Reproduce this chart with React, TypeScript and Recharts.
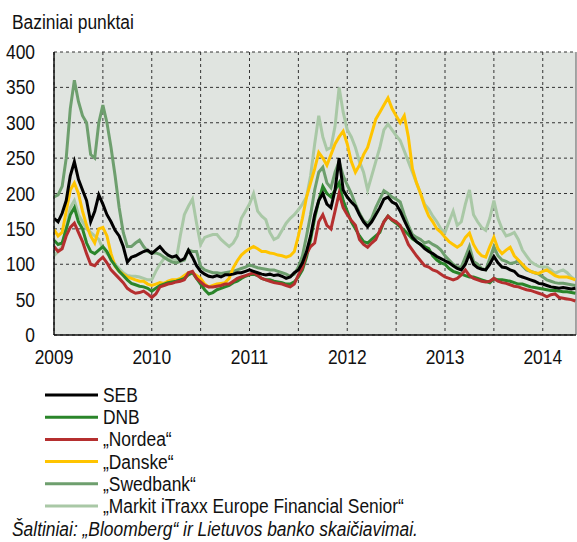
import { LineChart, Line, XAxis, YAxis, CartesianGrid, ReferenceLine } from 'recharts'

// semi-monthly observations, first point = start of 2009
const START_YEAR = 2009
const STEP = 1 / 24

const seb = [
  165, 160, 172, 190, 225, 245, 220, 205, 190, 160, 175, 198, 185, 170, 160, 148, 140, 125, 103, 110,
  112, 115, 118, 120, 115, 120, 125, 118, 113, 110, 112, 105, 108, 120, 110, 98, 90, 86, 83, 82,
  84, 82, 85, 85, 86, 88, 88, 90, 92, 90, 88, 86, 85, 86, 84, 85, 83, 80, 82, 88,
  92, 102, 118, 140, 170, 190, 200, 185, 180, 205, 250, 205, 195, 188, 182, 170, 160, 153, 160, 170,
  180, 192, 195, 188, 185, 175, 162, 150, 138, 132, 128, 122, 118, 115, 111, 108, 105, 102, 98, 94,
  92, 100, 115, 100, 95, 93, 92, 100, 111, 102, 96, 95, 92, 90, 84, 82, 80, 78, 76, 73,
  72, 70, 68, 67, 66, 67, 66, 65, 66,
]

const dnb = [
  134, 128, 130, 150, 170, 180, 160, 150, 130, 118, 115, 120, 125, 118, 106, 98, 90, 84, 78, 73,
  71, 69, 68, 66, 62, 66, 70, 72, 74, 75, 76, 78, 80, 85, 88, 80, 72, 64, 58, 60,
  64, 66, 68, 70, 74, 76, 80, 83, 85, 86, 84, 80, 78, 78, 76, 75, 74, 72, 72, 75,
  82, 92, 110, 135, 165, 190, 210, 200, 195, 205, 215, 190, 175, 160, 150, 140, 132, 130, 135, 140,
  145, 160, 168, 162, 158, 153, 148, 142, 136, 132, 128, 125, 122, 112, 106, 102, 100, 94, 90, 88,
  86, 84, 82, 82, 80, 78, 76, 74, 80, 78, 78, 77, 76, 74, 72, 72, 70, 68, 67, 66,
  65, 64, 63, 63, 62, 61, 61, 60, 59,
]

const nordea = [
  125, 118, 122, 140, 152, 158, 145, 132, 115, 100, 98, 105, 110, 102, 92, 86, 80, 74, 66, 62,
  59, 60, 62, 58, 53, 58, 68, 70, 72, 73, 75, 76, 78, 88, 90, 80, 75, 70, 68, 68,
  69, 70, 72, 72, 76, 80, 82, 84, 86, 88, 84, 80, 78, 76, 74, 73, 72, 70, 68, 72,
  85, 95, 115, 125, 130, 160, 170, 155, 150, 175, 200, 180, 170, 162, 155, 135, 128, 124, 130, 135,
  148, 160, 168, 163, 160, 155, 142, 128, 120, 112, 105, 98, 96, 92, 90, 86, 82, 80, 78, 80,
  85, 92, 84, 80, 78, 76, 75, 76, 80, 76, 74, 73, 71, 69, 68, 66, 64, 63, 61, 59,
  57, 54, 57, 58, 53, 52, 51, 50, 48,
]

const danske = [
  149, 140, 145, 175, 205, 215, 200, 175, 155, 140, 130, 150, 152, 140, 115, 97, 90, 86, 82, 80,
  78, 76, 76, 72, 70, 72, 74, 73, 76, 78, 78, 80, 84, 88, 88, 84, 80, 72, 68, 70,
  72, 73, 74, 80, 95, 105, 113, 118, 122, 125, 122, 118, 118, 116, 115, 113, 112, 110, 112, 118,
  140, 165, 195, 215, 235, 258, 250, 240, 255, 270, 280, 288, 270, 245, 230, 240, 255, 265, 285, 305,
  315, 325, 335, 320, 310, 300, 310, 280, 235, 215, 200, 182, 168, 160, 150, 145, 138, 132, 128, 124,
  128, 138, 144, 128, 118, 112, 110, 125, 138, 122, 115, 120, 124, 112, 106, 100, 94, 90, 88, 87,
  90, 92, 88, 84, 82, 82, 82, 80, 78,
]

const swedbank = [
  195, 198, 210, 250, 320, 360, 330, 310, 300, 255, 250, 300, 325, 300, 265, 225, 180, 145, 125, 125,
  130, 134, 125, 118, 116, 116, 114, 110, 106, 103, 102, 104, 106, 120, 118, 118, 97, 92, 90, 88,
  88, 87, 88, 89, 90, 92, 94, 96, 99, 97, 95, 94, 93, 92, 92, 90, 88, 86, 83, 86,
  96, 112, 140, 170, 205, 230, 237, 215, 208, 230, 245, 225, 212, 200, 185, 172, 162, 157, 165, 180,
  192, 204, 200, 195, 192, 188, 170, 155, 142, 138, 135, 130, 132, 128, 125, 120, 112, 106, 100, 96,
  96, 110, 125, 104, 100, 94, 92, 108, 125, 112, 106, 104, 101, 102, 105, 98, 92, 90, 88, 86,
  82, 78, 76, 74, 73, 73, 72, 71, 70,
]

const markit = [
  112, 118, 125, 150, 180, 190, 170, 160, 150, 145, 140, 135, 122, 115, 110, 100, 94, 88, 84, 83,
  83, 82, 80, 78, 78, 90, 100, 108, 110, 106, 106, 140, 170, 182, 192, 158, 128, 138, 140, 142,
  142, 135, 130, 125, 130, 140, 165, 175, 185, 200, 175, 168, 163, 145, 135, 138, 148, 158, 165, 170,
  177, 185, 195, 225, 270, 310, 280, 262, 265, 295, 350, 315, 290, 280, 265, 245, 230, 205, 225, 245,
  265, 290, 298, 290, 282, 275, 260, 245, 230, 215, 200, 185, 178, 168, 160, 150, 145, 160, 175, 155,
  160, 185, 205, 170, 160, 152, 148, 165, 190, 165, 150, 140, 142, 145, 135, 120, 112, 104, 100, 97,
  96, 96, 92, 87, 90, 92, 88, 82, 78,
]

const halfYearTicks = [2009, 2009.5, 2010, 2010.5, 2011, 2011.5, 2012, 2012.5, 2013, 2013.5, 2014]
const valueTicks = [0, 50, 100, 150, 200, 250, 300, 350, 400]

const series = [
  { key: 'seb', name: 'SEB', color: '#000000' },
  { key: 'dnb', name: 'DNB', color: '#2a852a' },
  { key: 'nordea', name: '„Nordea“', color: '#b52f2f' },
  { key: 'danske', name: '„Danske“', color: '#ffc400' },
  { key: 'swedbank', name: '„Swedbank“', color: '#6e9f6e' },
  { key: 'markit', name: '„Markit iTraxx Europe Financial Senior“', color: '#a9c8a6' },
]

// bottom-most first
const drawOrder = ['markit', 'swedbank', 'danske', 'dnb', 'nordea', 'seb']

const rows = seb.map((v, i) => ({
  t: START_YEAR + i * STEP,
  seb: v,
  dnb: dnb[i],
  nordea: nordea[i],
  danske: danske[i],
  swedbank: swedbank[i],
  markit: markit[i],
}))

// no narrow font installed: squeeze Liberation Sans to look like Arial Narrow
const FONT = "'Liberation Sans', Arial, sans-serif"
const SQUEEZE = 0.87

const NText = ({ x, y, anchor = 'start', italic = false, children }: any) => (
  <text
    transform={`translate(${x},${y}) scale(${SQUEEZE},1)`}
    textAnchor={anchor}
    fontSize={20}
    fontStyle={italic ? 'italic' : 'normal'}
    fontFamily={FONT}
    fill="#111"
  >
    {children}
  </text>
)

const YTick = ({ x, y, payload }: any) => (
  <NText x={x - 19} y={y + 7} anchor="end">
    {payload.value}
  </NText>
)

const XTick = ({ x, y, payload }: any) =>
  Number.isInteger(payload.value) ? (
    <NText x={x} y={y + 29} anchor="middle">
      {payload.value}
    </NText>
  ) : (
    <g />
  )

export default function App() {
  return (
    <div style={{ position: 'absolute', left: 0, top: 0, width: 577, height: 542, background: '#fff' }}>
      <LineChart
        width={577}
        height={385}
        data={rows}
        margin={{ top: 52, right: 1, bottom: 20, left: 0 }}
        style={{ position: 'absolute', left: 0, top: 0 }}
      >
        <CartesianGrid
          fill="#e0e4e0"
          stroke="#333"
          strokeDasharray="3 3"
          verticalValues={halfYearTicks}
          horizontalValues={valueTicks}
        />
        <XAxis
          dataKey="t"
          type="number"
          domain={[2009, 2014.34]}
          ticks={halfYearTicks}
          allowDataOverflow
          height={30}
          tickLine={false}
          tickSize={0}
          tickMargin={0}
          tick={XTick}
          axisLine={{ stroke: '#111', strokeWidth: 1.5 }}
        />
        <YAxis
          type="number"
          domain={[0, 400]}
          ticks={valueTicks}
          width={54}
          tickLine={false}
          tickSize={0}
          tickMargin={0}
          tick={YTick}
          axisLine={{ stroke: '#111', strokeWidth: 1.5 }}
        />
        <ReferenceLine x={2014.34} stroke="#8a8a8a" strokeWidth={1.5} />
        {drawOrder.map(k => {
          const s = series.find(d => d.key === k)!
          return (
            <Line
              key={k}
              dataKey={k}
              type="linear"
              stroke={s.color}
              strokeWidth={3}
              dot={false}
              isAnimationActive={false}
            />
          )
        })}
      </LineChart>
      <svg width={577} height={542} style={{ position: 'absolute', left: 0, top: 0, pointerEvents: 'none' }}>
        <NText x={12} y={29}>Baziniai punktai</NText>
        {series.map((s, i) => {
          const cy = 395 + i * 22.2
          return (
            <g key={s.key}>
              <line x1={45} x2={98} y1={cy} y2={cy} stroke={s.color} strokeWidth={3} />
              <NText x={103} y={cy + 7}>{s.name}</NText>
            </g>
          )
        })}
        <NText x={12} y={536} italic>
          Šaltiniai: „Bloomberg“ ir Lietuvos banko skaičiavimai.
        </NText>
      </svg>
    </div>
  )
}
